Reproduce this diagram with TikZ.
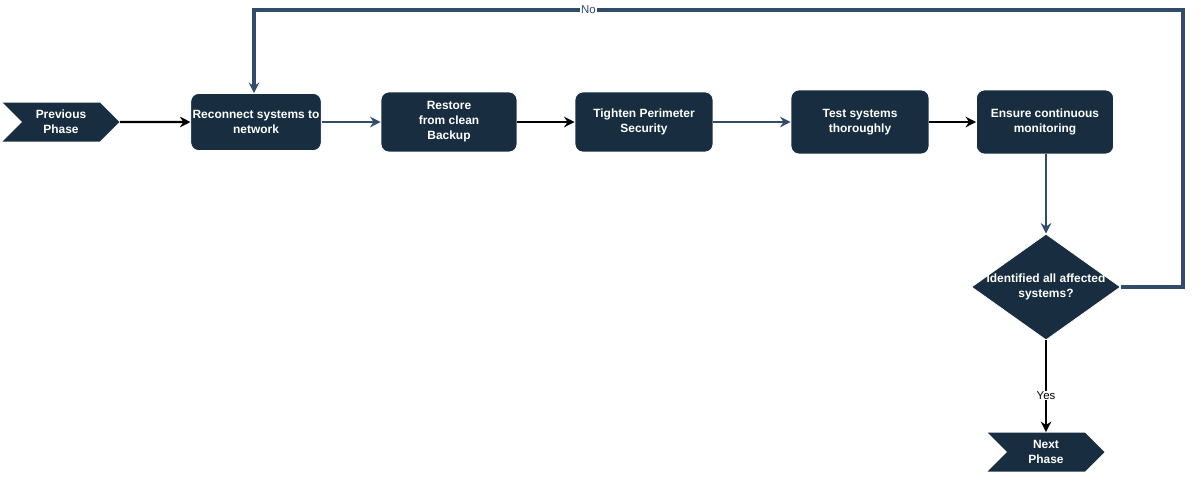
\documentclass[tikz,border=0pt]{standalone}
\usepackage{fontspec}
\setmainfont{Liberation Sans}
\usetikzlibrary{shapes.geometric,shapes.symbols,arrows.meta}

\definecolor{boxfill}{RGB}{24,46,64}
\definecolor{flowblue}{RGB}{48,76,106}

\tikzset{
  stepbox/.style={draw=white, fill=boxfill, rounded corners=0.16cm, text=white,
    font=\bfseries\fontsize{6.8}{8.5}\selectfont, align=center, inner sep=1pt},
  phase/.style={signal, signal from=west, signal to=east, fill=boxfill, text=white,
    minimum width=2.34cm, minimum height=0.78cm, inner sep=0pt,
    font=\bfseries\fontsize{6.8}{8.5}\selectfont, align=center},
  decision/.style={diamond, fill=boxfill, draw=white, minimum width=2.98cm,
    minimum height=2.12cm, inner sep=0pt},
  txt/.style={text=white, font=\bfseries\fontsize{6.8}{8.5}\selectfont, align=center},
  flow/.style={-{Stealth[length=6pt,width=6pt]}, line width=1.3pt},
  lbl/.style={fill=white, inner sep=0.5pt, font=\fontsize{6.5}{7}\selectfont}
}

\begin{document}
\begin{tikzpicture}[x=0.02cm, y=-0.02cm]
\useasboundingbox (0,0) rectangle (1201,484);

% Phases
\node[phase] (prev) at (61,122) {Previous\\Phase};
\node[phase] (next) at (1046,452) {Next\\Phase};

% Steps
\node[stepbox, minimum width=2.6cm, minimum height=1.14cm] (reconnect) at (256,122) {Reconnect systems to\\network};
\node[stepbox, minimum width=2.72cm, minimum height=1.2cm] (restore) at (449,122) {Restore\\from clean\\Backup};
\node[stepbox, minimum width=2.76cm, minimum height=1.2cm] (tighten) at (644,122) {Tighten Perimeter\\Security};
\node[stepbox, minimum width=2.76cm, minimum height=1.28cm] (test) at (860,122) {Test systems\\thoroughly};
\node[stepbox, minimum width=2.74cm, minimum height=1.28cm] (ensure) at (1045,122) {Ensure continuous\\monitoring};

% Decision
\node[decision] (check) at (1046,287) {};
\node[txt] at (check) {Identified all affected\\systems?};

% Arrows
\draw[flow] (prev) -- (reconnect);
\draw[flow, flowblue] (reconnect) -- (restore);
\draw[flow] (restore) -- (tighten);
\draw[flow, flowblue] (tighten) -- (test);
\draw[flow] (test) -- (ensure);
\draw[flow, flowblue] (ensure.south -| check.north) -- (check.north);
\draw[flow] (check.south) -- node[lbl, pos=0.6] {Yes} (next.north);
\draw[flow, flowblue, line width=2pt] (check.east) -- (1183,287) -- (1183,10)
  -- node[lbl, pos=0.64] {No} (254,10) -- (reconnect.north -| 254,10);
\end{tikzpicture}
\end{document}
